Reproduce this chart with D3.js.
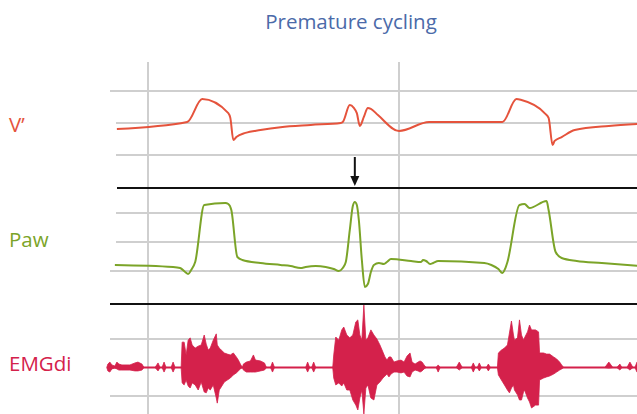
<!DOCTYPE html>
<html>
<head>
<meta charset="utf-8">
<script src="https://cdn.jsdelivr.net/npm/d3@7"></script>
<style>
  html, body { margin: 0; padding: 0; background: #fff; }
  svg { display: block; font-family: "Open Sans", "Noto Sans", sans-serif; }
</style>
</head>
<body>
<svg id="viz" width="637" height="414"></svg>
<script>
// ==== Data (time in s, flow in L/s, pressure in cmH2O, EMG in arbitrary units) ====
const flowTime = [-0.62, 0.78, 1.08, 1.60, 1.64, 1.70, 1.76, 1.94, 2.24, 2.64, 3.24, 3.84, 3.88, 4.02, 4.10, 4.16, 4.22, 4.30, 4.38, 4.44, 4.58, 5.00, 5.60, 7.06, 7.34, 7.44, 7.90, 7.98, 8.06, 8.10, 8.24, 8.50, 9.18, 9.78];
const flowValues = [-0.19, 0.03, 0.75, 0.31, 0.16, -0.53, -0.44, -0.31, -0.22, -0.13, -0.06, 0, 0.03, 0.56, 0.47, 0.31, -0.09, 0.19, 0.47, 0.44, 0.25, -0.25, 0.03, 0.03, 0.75, 0.72, 0.31, 0.16, -0.69, -0.56, -0.44, -0.22, -0.09, -0.03];

const pawTime = [-0.66, 0.50, 0.64, 0.74, 0.80, 0.86, 0.94, 1.12, 1.54, 1.60, 1.66, 1.78, 1.88, 2.24, 2.64, 2.84, 3.04, 3.14, 3.34, 3.54, 3.70, 3.80, 3.88, 3.94, 4.02, 4.08, 4.12, 4.16, 4.20, 4.26, 4.32, 4.38, 4.44, 4.50, 4.60, 4.70, 4.76, 4.84, 5.24, 5.44, 5.48, 5.54, 5.62, 5.68, 5.78, 6.70, 6.84, 6.98, 7.06, 7.12, 7.16, 7.40, 7.50, 7.60, 7.94, 7.98, 8.12, 8.24, 8.54, 9.04, 9.78];
const pawValues = [2.07, 1.38, 1.03, -0.34, -1.03, 0.34, 3.10, 22.76, 23.45, 23.10, 21.03, 4.83, 3.79, 2.76, 2.07, 1.72, 1.03, 1.38, 1.72, 1.38, 0.69, 0, 1.03, 3.10, 14.14, 22.41, 23.79, 22.76, 17.59, 3.79, -5.52, -4.48, -0.34, 2.07, 2.76, 2.41, 3.10, 4.14, 3.45, 3.10, 3.79, 3.45, 2.41, 2.76, 3.45, 2.76, 2.07, 0.69, -0.69, 1.03, 3.10, 22.76, 23.10, 21.72, 24.14, 21.03, 6.55, 4.48, 3.45, 2.76, 1.72];

// EMGdi envelope: [time, upper, lower]
const emgEnvelope = [
  [-0.82, 0, 0], [-0.80, 1.2, -1.2], [-0.76, 1.9, -1.6], [-0.72, 0.9, -0.5], [-0.66, 0.5, -0.2], [-0.62, 1.9, -0.5],
  [-0.58, 1.2, -0.9], [-0.52, 0.9, -0.9], [-0.36, 0.9, -0.9], [-0.26, 1.6, -1.2], [-0.20, 1.9, -1.2], [-0.12, 1.2, -0.9],
  [-0.08, 0, 0], [0.14, 0, 0], [0.20, 1.6, -1.2], [0.24, 0, 0], [0.28, 0, 0], [0.32, 1.9, -1.6], [0.36, 0, 0],
  [0.46, 0, 0], [0.50, 1.9, -1.6], [0.54, 0, 0], [0.66, 0, 0],
  [0.68, 8.9, -5.4], [0.72, 8.9, -6.1], [0.76, 4.4, -4.4], [0.80, 9.6, -6.5], [0.84, 10.4, -7.2], [0.88, 7.9, -5.4],
  [0.94, 6.8, -6.1], [1.00, 7.5, -7.9], [1.06, 7.9, -5.1], [1.12, 11.4, -8.6], [1.16, 8.2, -8.9], [1.20, 6.1, -7.2],
  [1.24, 6.8, -7.9], [1.30, 9.6, -6.1], [1.36, 11.8, -10.7], [1.38, 7.9, -12.5], [1.42, 6.8, -7.9], [1.46, 6.1, -6.8],
  [1.52, 5.1, -5.1], [1.58, 4.7, -4.4], [1.64, 4.4, -3.7], [1.70, 5.1, -2.6], [1.76, 3.7, -1.9], [1.80, 2.6, -1.2],
  [1.84, 1.2, -0.5], [1.88, 0, 0], [1.90, 1.2, -0.9], [1.96, 1.9, -1.6], [2.04, 2.3, -1.6], [2.10, 4.4, -1.6],
  [2.14, 2.6, -1.6], [2.24, 2.3, -1.2], [2.32, 1.6, -0.9], [2.36, 0, 0], [2.44, 0, 0], [2.48, 1.9, -1.6], [2.52, 0, 0],
  [3.14, 0, 0], [3.18, 1.9, -1.6], [3.22, 0, 0], [3.26, 0, 0], [3.30, 1.9, -1.6], [3.34, 0, 0], [3.68, 0, 0],
  [3.70, 4.4, -3.7], [3.74, 10.7, -6.1], [3.80, 9.6, -5.4], [3.86, 13.2, -6.5], [3.90, 14.2, -5.4], [3.96, 11.4, -7.9],
  [4.02, 10.4, -7.9], [4.08, 11.4, -11.4], [4.14, 16.0, -13.2], [4.18, 16.7, -14.9], [4.22, 11.4, -10.7], [4.26, 9.6, -7.9],
  [4.30, 21.9, -16.3], [4.34, 9.6, -7.2], [4.38, 10.4, -6.1], [4.44, 13.2, -10.7], [4.50, 11.4, -11.4], [4.56, 10.0, -6.1],
  [4.62, 7.9, -5.1], [4.68, 5.4, -3.7], [4.72, 3.7, -3.0], [4.76, 2.6, -2.3], [4.80, 3.7, -3.3], [4.84, 3.7, -2.3],
  [4.90, 1.9, -1.6], [4.96, 2.3, -1.6], [5.04, 2.6, -1.9], [5.10, 1.9, -1.6], [5.16, 4.0, -3.0], [5.22, 5.1, -3.3],
  [5.26, 1.9, -1.6], [5.32, 1.2, -0.9], [5.38, 1.9, -1.2], [5.42, 2.3, -1.6], [5.46, 1.9, -1.2], [5.50, 0.9, -0.5],
  [5.54, 0, 0], [5.74, 0, 0], [5.78, 0.9, -1.6], [5.82, 0, 0], [6.14, 0, 0], [6.20, 1.9, -0.9], [6.26, 0, 0],
  [6.44, 0, 0], [6.48, 1.6, -1.6], [6.52, 0, 0], [6.56, 0, 0], [6.60, 1.6, -1.2], [6.64, 0, 0], [6.74, 0, 0],
  [6.78, 1.2, -1.2], [6.82, 0, 0], [6.96, 0, 0],
  [6.98, 5.1, -2.6], [7.04, 6.1, -4.4], [7.10, 6.8, -6.1], [7.16, 7.9, -7.9], [7.20, 12.1, -8.9], [7.24, 16.3, -7.2],
  [7.28, 11.4, -6.1], [7.30, 9.6, -7.9], [7.36, 10.4, -9.6], [7.40, 16.7, -11.4], [7.44, 11.4, -11.4], [7.48, 9.6, -8.6],
  [7.50, 10.4, -7.9], [7.56, 12.5, -10.7], [7.60, 14.9, -12.1], [7.64, 13.2, -14.2], [7.72, 13.2, -13.2], [7.78, 12.5, -13.2],
  [7.80, 5.1, -4.4], [7.88, 5.1, -3.7], [7.94, 4.7, -3.3], [8.00, 4.7, -3.0], [8.08, 3.7, -2.3], [8.14, 3.0, -1.6],
  [8.20, 1.9, -0.9], [8.24, 0.9, -0.5], [8.28, 0, 0], [9.10, 0, 0], [9.18, 1.9, -0.2], [9.26, 0, 0], [9.34, 0, 0],
  [9.40, 1.2, -0.9], [9.44, 0, 0], [9.54, 0, 0], [9.60, 1.9, -0.9], [9.66, 0, 0], [9.70, 0, 0], [9.74, 1.9, -1.6],
  [9.78, 1.6, -1.2]
];

const timeGrid = [0, 5];
const flowGrid = [-1, 0, 1];
const pawGrid = [0, 10, 20];
const emgGrid = [-10, 10];
const arrowTime = 4.12;   // premature cycling marker

const titleText = "Premature cycling";
const labels = ["V\u2019", "Paw", "EMGdi"];

// ==== Scales ====
const x = d3.scaleLinear().domain([0, 5]).range([148, 399]);
const yFlow = d3.scaleLinear().domain([-1, 1]).range([155, 91]);
const yPaw = d3.scaleLinear().domain([0, 20]).range([271, 213]);
const yEmg = d3.scaleLinear().domain([-10, 10]).range([396, 339]);

const colFlow = "#e5533c", colPaw = "#7ba428", colEmg = "#d4214b";
const gridCol = "#cfcfcf";

const svg = d3.select("#viz");
const gGrid = svg.append("g");
const gTraces = svg.append("g");

// ==== Grid ====
gGrid.selectAll("line.v").data(timeGrid).join("line")
  .attr("x1", d => x(d)).attr("x2", d => x(d))
  .attr("y1", 62).attr("y2", 414)
  .attr("stroke", gridCol).attr("stroke-width", 2);

function hGrid(vals, scale, x0) {
  gGrid.append("g").selectAll("line").data(vals).join("line")
    .attr("x1", (d, i) => (typeof x0 === "function" ? x0(d, i) : x0)).attr("x2", 637)
    .attr("y1", d => scale(d)).attr("y2", d => scale(d))
    .attr("stroke", gridCol).attr("stroke-width", 2);
}
hGrid(flowGrid, yFlow, d => (d === 1 ? 110 : 116));
hGrid(pawGrid, yPaw, d => (d === 0 ? 110 : 116));
hGrid(emgGrid, yEmg, 110);

// panel separators
[[117, 188], [110, 304]].forEach(([x0, y]) => {
  svg.append("line").attr("x1", x0).attr("x2", 637).attr("y1", y).attr("y2", y)
    .attr("stroke", "#111").attr("stroke-width", 2);
});

// ==== Traces ====
const flowLine = d3.line()
  .x((d, i) => x(flowTime[i])).y(d => yFlow(d))
  .curve(d3.curveMonotoneX);
gTraces.append("path").datum(flowValues)
  .attr("d", flowLine).attr("fill", "none")
  .attr("stroke", colFlow).attr("stroke-width", 2).attr("stroke-linejoin", "round");

const pawLine = d3.line()
  .x((d, i) => x(pawTime[i])).y(d => yPaw(d))
  .curve(d3.curveMonotoneX);
gTraces.append("path").datum(pawValues)
  .attr("d", pawLine).attr("fill", "none")
  .attr("stroke", colPaw).attr("stroke-width", 2).attr("stroke-linejoin", "round");

// EMG baseline + envelope (spiky, so straight segments)
gTraces.append("line")
  .attr("x1", x(emgEnvelope[0][0])).attr("x2", x(emgEnvelope[emgEnvelope.length - 1][0]))
  .attr("y1", yEmg(0)).attr("y2", yEmg(0))
  .attr("stroke", colEmg).attr("stroke-width", 2.2);
const emgArea = d3.area()
  .x(d => x(d[0])).y0(d => yEmg(d[2])).y1(d => yEmg(d[1]))
  .curve(d3.curveLinear);
gTraces.append("path").datum(emgEnvelope)
  .attr("d", emgArea).attr("fill", colEmg)
  .attr("stroke", colEmg).attr("stroke-width", 0.8).attr("stroke-linejoin", "round");

// ==== Arrow ====
const ax = x(arrowTime);
svg.append("line").attr("x1", ax).attr("x2", ax).attr("y1", 157).attr("y2", 178)
  .attr("stroke", "#111").attr("stroke-width", 2);
svg.append("path")
  .attr("d", `M${ax - 4.5},${176} L${ax + 4.5},${176} L${ax},${186} Z`)
  .attr("fill", "#111");

// ==== Text ====
svg.append("text").attr("x", 351).attr("y", 29)
  .attr("text-anchor", "middle").attr("font-size", 20.5)
  .attr("fill", "#4b6aa9").text(titleText);

const labelPos = [[9, 132, colFlow], [9, 247, colPaw], [9, 371, colEmg]];
svg.selectAll("text.lbl").data(labels).join("text")
  .attr("class", "lbl")
  .attr("x", (d, i) => labelPos[i][0]).attr("y", (d, i) => labelPos[i][1])
  .attr("font-size", 20.5)
  .attr("fill", (d, i) => labelPos[i][2])
  .text(d => d);
</script>
</body>
</html>
